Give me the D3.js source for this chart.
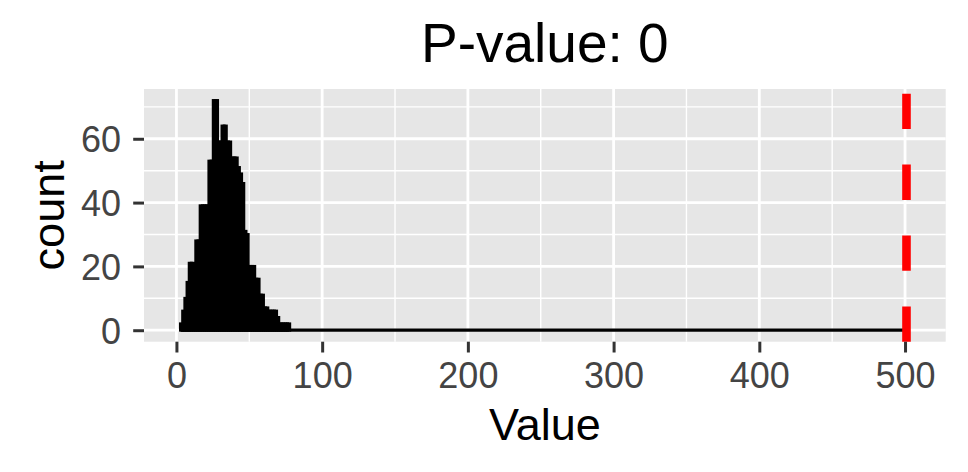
<!DOCTYPE html>
<html>
<head>
<meta charset="utf-8">
<script src="https://cdn.jsdelivr.net/npm/d3@7"></script>
<style>
  html, body { margin: 0; padding: 0; background: #ffffff; }
  svg { display: block; font-family: "Liberation Sans", Arial, Helvetica, sans-serif; }
</style>
</head>
<body>
<svg id="chart" width="968" height="472"></svg>
<script>
// ---- data ----
const binStart = 2.75;          // left edge of first bin
const binWidth = 1.5;           // bin width (Value units)
const counts = [2, 6, 10, 15, 21, 21, 20, 28, 28, 39,
                39, 39, 39, 53, 53, 72, 72, 59, 59, 64,
                64, 59, 59, 54, 54, 54, 51, 49, 46, 31,
                30, 20, 20, 20, 16, 16, 11, 11, 7, 7,
                6, 6, 6, 6, 4, 2, 2, 2, 2, 2];
const histEnd = 502.9;          // right edge of last (empty) bin
const observedValue = 501;      // dashed red reference line
const pValue = 0;
const xTicks = [0, 100, 200, 300, 400, 500];
const xMinor = [50, 150, 250, 350, 450];
const yTicks = [0, 20, 40, 60];
const yMinor = [10, 30, 50, 70];
const titleText = "P-value: " + pValue;
const xTitle = "Value";
const yTitle = "count";

// ---- layout ----
const panel = { left: 144, right: 945.7, top: 89, bottom: 341.7 };
const svg = d3.select("#chart");

const bins = counts.map((c, i) => ({ x0: binStart + i * binWidth, x1: binStart + (i + 1) * binWidth, n: c }));

const xLo = binStart, xHi = histEnd, xPad = 0.05 * (xHi - xLo);
const x = d3.scaleLinear().domain([xLo - xPad, xHi + xPad]).range([panel.left, panel.right]);
const yMax = d3.max(counts), yPad = 0.05 * yMax;
const y = d3.scaleLinear().domain([-yPad, yMax + yPad]).range([panel.bottom, panel.top]);

// panel background
svg.append("rect")
  .attr("x", panel.left).attr("y", panel.top)
  .attr("width", panel.right - panel.left).attr("height", panel.bottom - panel.top)
  .attr("fill", "#E6E6E6");

const grid = svg.append("g");
// minor grid
grid.selectAll("line.xm").data(xMinor).join("line")
  .attr("x1", d => x(d)).attr("x2", d => x(d)).attr("y1", panel.top).attr("y2", panel.bottom)
  .attr("stroke", "#fff").attr("stroke-width", 1.4);
grid.selectAll("line.ym").data(yMinor).join("line")
  .attr("y1", d => y(d)).attr("y2", d => y(d)).attr("x1", panel.left).attr("x2", panel.right)
  .attr("stroke", "#fff").attr("stroke-width", 1.4);
// major grid
grid.selectAll("line.xM").data(xTicks).join("line")
  .attr("x1", d => x(d)).attr("x2", d => x(d)).attr("y1", panel.top).attr("y2", panel.bottom)
  .attr("stroke", "#fff").attr("stroke-width", 2.8);
grid.selectAll("line.yM").data(yTicks).join("line")
  .attr("y1", d => y(d)).attr("y2", d => y(d)).attr("x1", panel.left).attr("x2", panel.right)
  .attr("stroke", "#fff").attr("stroke-width", 2.8);

// histogram: zero baseline across the full binned range, then bars
const hist = svg.append("g");
hist.append("line")
  .attr("x1", x(binStart)).attr("x2", x(histEnd))
  .attr("y1", y(0)).attr("y2", y(0))
  .attr("stroke", "#000").attr("stroke-width", 3.3);
hist.selectAll("rect").data(bins).join("rect")
  .attr("x", d => x(d.x0))
  .attr("width", d => x(d.x1) - x(d.x0))
  .attr("y", d => y(d.n))
  .attr("height", d => y(0) - y(d.n))
  .attr("fill", "#000").attr("stroke", "#000").attr("stroke-width", 2.9)
  .attr("stroke-linejoin", "miter");

// observed value dashed line (drawn bottom to top like ggplot)
svg.append("line")
  .attr("x1", x(observedValue)).attr("x2", x(observedValue))
  .attr("y1", panel.bottom).attr("y2", panel.top)
  .attr("stroke", "#FF0000").attr("stroke-width", 8.6)
  .attr("stroke-dasharray", "35.3,35.6");

// axes
const fontTick = 36;
const xAxis = svg.append("g").attr("transform", `translate(0,${panel.bottom})`)
  .call(d3.axisBottom(x).tickValues(xTicks).tickSize(10.8).tickPadding(10.2).tickFormat(d3.format("d")));
const yAxis = svg.append("g").attr("transform", `translate(${panel.left},0)`)
  .call(d3.axisLeft(y).tickValues(yTicks).tickSize(10.8).tickPadding(12.2).tickFormat(d3.format("d")));
[xAxis, yAxis].forEach(a => {
  a.select(".domain").remove();
  a.selectAll(".tick line").attr("stroke", "#333333").attr("stroke-width", 3);
  a.selectAll(".tick text").attr("fill", "#444444")
    .style("font-size", fontTick + "px")
    .style("font-family", '"Liberation Sans", Arial, sans-serif');
});
yAxis.selectAll(".tick text").attr("dy", "0.36em");

// titles
const cx = (panel.left + panel.right) / 2, cy = (panel.top + panel.bottom) / 2;
svg.append("text").attr("x", cx).attr("y", 61.7).attr("text-anchor", "middle")
  .style("font-size", "55px").attr("fill", "#000").text(titleText);
svg.append("text").attr("x", cx).attr("y", 440).attr("text-anchor", "middle")
  .style("font-size", "45px").attr("fill", "#000").text(xTitle);
svg.append("text").attr("transform", `translate(63.5,${cy}) rotate(-90)`).attr("text-anchor", "middle")
  .style("font-size", "45px").attr("fill", "#000").text(yTitle);
</script>
</body>
</html>
